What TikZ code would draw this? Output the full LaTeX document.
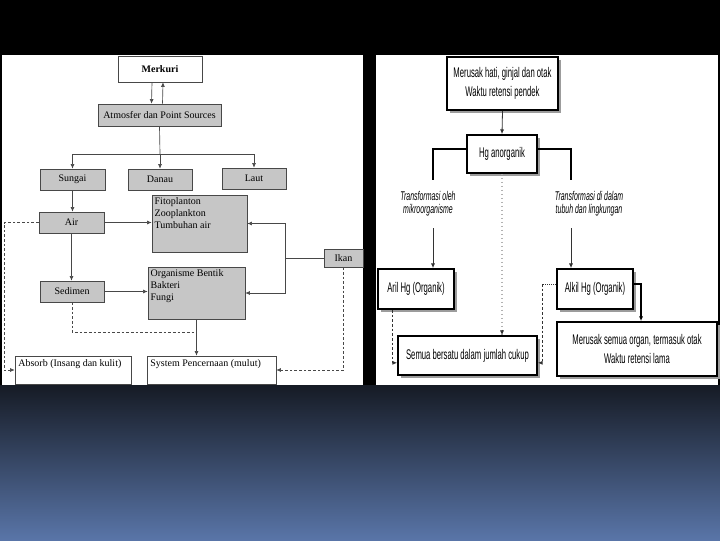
\documentclass[tikz,border=0pt]{standalone}
\usepackage{fontspec}
\setmainfont{Liberation Serif}
\newfontfamily\narrowsans[FakeStretch=0.55]{Liberation Sans}
\usetikzlibrary{arrows.meta,calc,shadows}
\definecolor{boxgray}{HTML}{C6C6C6}
\definecolor{edgec}{HTML}{484848}
\definecolor{shadowc}{HTML}{9C9C9C}
\definecolor{slidetop}{HTML}{161B25}
\definecolor{slidebot}{HTML}{5975A8}

\begin{document}
\begin{tikzpicture}[x=0.75pt,y=-0.75pt, >={Latex[length=3.5pt,width=3pt]}, font=\fontsize{7.5}{9}\selectfont]
\useasboundingbox (0,0) rectangle (720,540);
\fill[black] (0,0) rectangle (720,540);
\shade[top color=slidetop,bottom color=slidebot] (0,385) rectangle (720,540);
\fill[white] (2,55) rectangle (363,385);
\fill[white] (376,55) rectangle (718,385);
\tikzset{gbox/.style={draw=edgec, fill=boxgray, inner sep=0pt},
  wbox/.style={draw=edgec, fill=white, inner sep=0pt},
  ln/.style={draw=edgec, line width=0.5pt},
  dsh/.style={dash pattern=on 2pt off 1.5pt},
  hbox/.style={draw=black, line width=1.3pt, fill=white, inner sep=0pt, align=center, font=\narrowsans\fontsize{10.5}{14.25}\selectfont, drop shadow={shadow xshift=2.2pt, shadow yshift=-2.2pt, fill=shadowc, opacity=1}},
  itext/.style={fill=white, align=center, inner xsep=6pt, minimum height=36pt, font=\narrowsans\itshape\fontsize{9.5}{10}\selectfont},
  thk/.style={line width=1.5pt, black},
  thn/.style={line width=0.6pt, black!80}}
% left panel: mercury pathways
\node[wbox,minimum width=63pt,minimum height=19.5pt,font=\bfseries\fontsize{7.5}{9}\selectfont] (merk) at (160,69) {Merkuri};
\node[gbox,minimum width=92.25pt,minimum height=16.5pt] (atm) at (159.5,115) {Atmosfer dan Point Sources};
\node[gbox,minimum width=48.75pt,minimum height=15.75pt] (sungai) at (72.5,179.5) {Sungai};
\node[gbox,minimum width=48pt,minimum height=15.75pt] (danau) at (160,179.5) {Danau};
\node[gbox,minimum width=48pt,minimum height=15.75pt] (laut) at (254,178.5) {Laut};
\node[gbox,minimum width=48.75pt,minimum height=15.75pt] (air) at (71.5,222.5) {Air};
\node[gbox,minimum width=71.25pt,minimum height=42.75pt] (fito) at (199.5,223.5) {};
\node[anchor=north west,align=left,inner sep=2pt] at (fito.north west) {Fitoplanton\\Zooplankton\\Tumbuhan air};
\node[gbox,minimum width=29.25pt,minimum height=13.5pt] (ikan) at (343.5,258) {Ikan};
\node[gbox,minimum width=48pt,minimum height=15.75pt] (sedimen) at (72,291.5) {Sedimen};
\node[gbox,minimum width=72.75pt,minimum height=39pt] (org) at (196.5,293) {};
\node[anchor=north west,align=left,inner sep=2pt] at (org.north west) {Organisme Bentik\\Bakteri\\Fungi};
\node[wbox,minimum width=87pt,minimum height=21pt] (absorb) at (73,370) {};
\node[anchor=north west,inner sep=2.5pt] at (absorb.north west) {Absorb (Insang dan kulit)};
\node[wbox,minimum width=96.75pt,minimum height=21pt] (sys) at (211.5,370) {};
\node[anchor=north west,inner sep=2.5pt] at (sys.north west) {System Pencernaan (mulut)};
\draw[ln,->] ([xshift=-6pt]merk.south) -- ([xshift=-6pt]atm.north);
\draw[ln,->] ([xshift=2.25pt]atm.north) -- ([xshift=2.25pt]merk.south);
\coordinate (split) at (160,154);
\draw[ln] (atm.south) -- (split);
\draw[ln,->] (split) -| (sungai.north);
\draw[ln,->] (split) -| (laut.north);
\draw[ln,->] (split) -- (danau.north);
\draw[ln,->] (sungai.south) -- (sungai.south |- air.north);
\draw[ln,->] (air.east) -- (air.east -| fito.west);
\draw[ln,->] (air.south) -- (air.south |- sedimen.north);
\draw[ln,->] (sedimen.east) -- (sedimen.east -| org.west);
\coordinate (fork) at (285,258);
\draw[ln] (ikan.west) -- (fork);
\draw[ln,->] (fork) |- (fito.east);
\draw[ln,->] (fork) |- (org.east);
\draw[ln,->] (org.south) -- (org.south |- sys.north);
\coordinate (meet) at (196.5,332);
\draw[ln,dsh] (sedimen.south) |- (meet);
\draw[ln,dsh,->] (ikan.south) |- (sys.east);
\coordinate (rim) at (4,222.5);
\draw[ln,dsh,->] (air.west) -- (rim) |- (absorb.west);
% right panel: inorganic vs organic Hg
\node[hbox,minimum width=83.25pt,minimum height=39.75pt] (top) at (502.5,83.5) {Merusak hati, ginjal dan otak\\Waktu retensi pendek};
\node[hbox,minimum width=52.5pt,minimum height=28.5pt] (hg) at (502,154) {Hg anorganik};
\node[itext] (txtl) at (428,204) {Transformasi oleh\\mikroorganisme};
\node[itext] (txtr) at (589,204) {Transformasi di dalam\\tubuh dan lingkungan};
\node[hbox,minimum width=57pt,minimum height=30pt] (aril) at (416,289) {Aril Hg (Organik)};
\node[hbox,minimum width=57pt,minimum height=30pt] (alkil) at (595,289) {Alkil Hg (Organik)};
\node[hbox,minimum width=104.25pt,minimum height=29.25pt] (semua) at (467.5,355.5) {Semua bersatu dalam jumlah cukup};
\node[hbox,minimum width=120pt,minimum height=40.5pt] (merusak) at (637,349) {Merusak semua organ, termasuk otak\\Waktu retensi lama};
\draw[thn,->] (top.south) -- (hg.north);
\coordinate (bl) at (433,149);
\coordinate (br) at (571,149);
\draw[thk] ([yshift=3.75pt]hg.west) -- (bl) -- (bl |- txtl.north);
\draw[thk] ([yshift=3.75pt]hg.east) -- (br) -- (br |- txtr.north);
\draw[thn,->] (bl |- txtl.south) -- (bl |- aril.north);
\draw[thn,->] (br |- txtr.south) -- (br |- alkil.north);
\draw[gray!60,line width=1pt,dotted] (hg.south) -- (hg.south |- semua.north);
\draw[thn,->] ([yshift=4pt]hg.south |- semua.north) -- (hg.south |- semua.north);
\draw[thn,dsh,->] ([xshift=-18pt]aril.south) |- ([yshift=-5.5pt]semua.west);
\coordinate (dj) at (542,284);
\draw[thn,densely dotted] ([yshift=3.75pt]alkil.west) -- (dj);
\draw[thn,dsh,->] (dj) |- ([yshift=-5.5pt]semua.east);
\draw[thk,->] ([yshift=3.75pt]alkil.east) -| ([xshift=3pt]merusak.north);
\end{tikzpicture}
\end{document}
